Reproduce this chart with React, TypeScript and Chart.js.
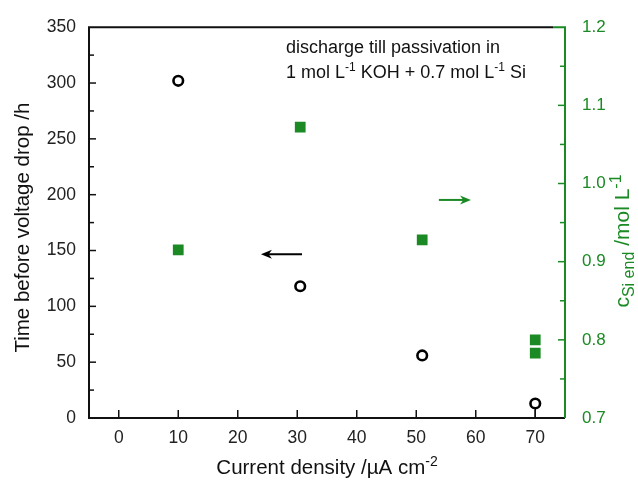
import React, { useEffect, useRef } from 'react';
import { Chart, registerables } from 'chart.js';

Chart.register(...registerables);

// ---- data ----
const currentDensity = [10, 30.5, 51, 70];
const timeBeforeDrop = [302, 118, 56, 13];
const timeLowerError = [0, 0, 0, 13];

const concCurrent = [10, 30.5, 51, 70, 70];
const concSiEnd = [0.915, 1.072, 0.928, 0.8, 0.783];

const xTickValues = [0, 10, 20, 30, 40, 50, 60, 70];
const yLeftTickValues = [0, 50, 100, 150, 200, 250, 300, 350];
const yRightTickValues = [0.7, 0.8, 0.9, 1.0, 1.1, 1.2];

const annotationLine1 = 'discharge till passivation in';
const blackArrow = { fromX: 30.8, toX: 23.9, y: 146.6 };
const greenArrow = { fromX: 53.8, toX: 59.2, y: 0.979 };

const GREEN = '#1b8a24';
const FONT = '"Liberation Sans", Arial, sans-serif';

type Seg = { t: string; s?: 'sub' | 'sup' };

function drawRich(
  ctx: CanvasRenderingContext2D,
  segs: Seg[],
  x: number,
  y: number,
  size: number,
  color: string,
  align: 'left' | 'center',
  rotate = 0,
  ratio = 0.68,
  supLift = 0.42
) {
  ctx.save();
  ctx.translate(x, y);
  if (rotate) ctx.rotate(rotate);
  ctx.fillStyle = color;
  ctx.textBaseline = 'alphabetic';
  ctx.textAlign = 'left';
  const small = Math.round(size * ratio);
  const widths = segs.map((sg) => {
    ctx.font = `${sg.s ? small : size}px ${FONT}`;
    return ctx.measureText(sg.t).width;
  });
  const total = widths.reduce((a, b) => a + b, 0);
  let cx = align === 'center' ? -total / 2 : 0;
  const base = size * 0.36;
  segs.forEach((sg, i) => {
    ctx.font = `${sg.s ? small : size}px ${FONT}`;
    let dy = base;
    if (sg.s === 'sup') dy = base - size * supLift;
    if (sg.s === 'sub') dy = base + size * 0.25;
    ctx.fillText(sg.t, cx, dy);
    cx += widths[i];
  });
  ctx.restore();
}

function drawArrow(ctx: CanvasRenderingContext2D, x1: number, x2: number, y: number, color: string) {
  ctx.save();
  ctx.strokeStyle = color;
  ctx.fillStyle = color;
  ctx.lineWidth = 2;
  const dir = x2 > x1 ? 1 : -1;
  const head = 11;
  ctx.beginPath();
  ctx.moveTo(x1, y);
  ctx.lineTo(x2 - dir * head * 0.6, y);
  ctx.stroke();
  ctx.beginPath();
  ctx.moveTo(x2, y);
  ctx.lineTo(x2 - dir * head, y - 4.5);
  ctx.lineTo(x2 - dir * head * 0.7, y);
  ctx.lineTo(x2 - dir * head, y + 4.5);
  ctx.closePath();
  ctx.fill();
  ctx.restore();
}

const decorPlugin = {
  id: 'decor',
  afterDatasetsDraw(chart: any) {
    const ctx: CanvasRenderingContext2D = chart.ctx;
    const { left, right, top, bottom } = chart.chartArea;
    const xs = chart.scales.x;
    const yl = chart.scales.y;
    const yr = chart.scales.y1;

    // error bars
    ctx.save();
    ctx.strokeStyle = '#000';
    ctx.lineWidth = 1.5;
    currentDensity.forEach((x, i) => {
      const e = timeLowerError[i];
      if (!e) return;
      const px = xs.getPixelForValue(x);
      const p0 = yl.getPixelForValue(timeBeforeDrop[i]);
      const p1 = yl.getPixelForValue(timeBeforeDrop[i] - e);
      ctx.beginPath();
      ctx.moveTo(px, p0 + 5);
      ctx.lineTo(px, p1);
      ctx.stroke();
    });
    ctx.restore();

    // frame
    ctx.save();
    ctx.lineWidth = 2;
    ctx.strokeStyle = '#111';
    ctx.beginPath();
    ctx.moveTo(right - 12, top);
    ctx.lineTo(left, top);
    ctx.lineTo(left, bottom);
    ctx.lineTo(right, bottom);
    ctx.stroke();
    ctx.strokeStyle = GREEN;
    ctx.beginPath();
    ctx.moveTo(right - 12, top);
    ctx.lineTo(right, top);
    ctx.lineTo(right, bottom);
    ctx.stroke();

    // inward ticks
    ctx.lineWidth = 1.5;
    ctx.strokeStyle = '#111';
    xTickValues.forEach((v) => {
      const px = xs.getPixelForValue(v);
      ctx.beginPath();
      ctx.moveTo(px, bottom);
      ctx.lineTo(px, bottom - 8);
      ctx.stroke();
    });
    for (let v = 25; v < 350; v += 25) {
      const py = yl.getPixelForValue(v);
      const len = v % 50 === 0 ? 7 : 5;
      ctx.beginPath();
      ctx.moveTo(left, py);
      ctx.lineTo(left + len, py);
      ctx.stroke();
    }
    ctx.strokeStyle = GREEN;
    for (let k = 1; k < 10; k++) {
      const v = 0.7 + k * 0.05;
      const py = yr.getPixelForValue(v);
      const len = k % 2 === 0 ? 7 : 5;
      ctx.beginPath();
      ctx.moveTo(right, py);
      ctx.lineTo(right - len, py);
      ctx.stroke();
    }
    ctx.restore();

    // arrows
    drawArrow(
      ctx,
      xs.getPixelForValue(blackArrow.fromX),
      xs.getPixelForValue(blackArrow.toX),
      yl.getPixelForValue(blackArrow.y),
      '#000'
    );
    drawArrow(
      ctx,
      xs.getPixelForValue(greenArrow.fromX),
      xs.getPixelForValue(greenArrow.toX),
      yr.getPixelForValue(greenArrow.y),
      GREEN
    );

    // annotation
    drawRich(ctx, [{ t: annotationLine1 }], 286, 47, 18, '#111', 'left');
    drawRich(
      ctx,
      [
        { t: '1 mol L' },
        { t: '-1', s: 'sup' },
        { t: ' KOH + 0.7 mol L' },
        { t: '-1', s: 'sup' },
        { t: ' Si' },
      ],
      286,
      72,
      18,
      '#111',
      'left'
    );

    // axis titles
    drawRich(ctx, [{ t: 'Time before voltage drop /h' }], 22, (top + bottom) / 2 + 5, 20.5, '#111', 'center', -Math.PI / 2);
    drawRich(
      ctx,
      [{ t: 'Current density /µA cm' }, { t: '-2', s: 'sup' }],
      (left + right) / 2,
      467,
      20.5,
      '#111',
      'center'
    );
    drawRich(
      ctx,
      [{ t: 'c' }, { t: 'Si end', s: 'sub' }, { t: ' /mol L' }, { t: '-1', s: 'sup' }],
      621,
      241,
      21,
      GREEN,
      'center',
      -Math.PI / 2,
      0.78,
      0.36
    );
  },
};

export default function App() {
  const ref = useRef<HTMLCanvasElement | null>(null);

  useEffect(() => {
    if (!ref.current) return;
    const chart = new Chart(ref.current, {
      type: 'scatter',
      data: {
        datasets: [
          {
            label: 'Time before voltage drop',
            data: currentDensity.map((x, i) => ({ x, y: timeBeforeDrop[i] })),
            yAxisID: 'y',
            pointStyle: 'circle',
            pointRadius: 4.8,
            pointBorderWidth: 2.6,
            borderColor: '#000',
            backgroundColor: 'rgba(255,255,255,0)',
          },
          {
            label: 'c Si end',
            data: concCurrent.map((x, i) => ({ x, y: concSiEnd[i] })),
            yAxisID: 'y1',
            pointStyle: 'rect',
            pointRadius: 7.6,
            pointBorderWidth: 0,
            borderColor: GREEN,
            backgroundColor: GREEN,
          },
        ],
      },
      options: {
        animation: false,
        responsive: true,
        maintainAspectRatio: false,
        layout: { padding: { top: 24, left: 0, right: 0, bottom: 0 } },
        plugins: { legend: { display: false }, tooltip: { enabled: false } },
        scales: {
          x: {
            type: 'linear',
            min: -5,
            max: 75,
            afterBuildTicks: (s: any) => {
              s.ticks = xTickValues.map((v) => ({ value: v }));
            },
            afterFit: (s: any) => {
              s.height = 69;
            },
            grid: { display: false, drawTicks: false },
            border: { display: false },
            ticks: { padding: 10, color: '#222', font: { family: FONT, size: 17.5 } },
          },
          y: {
            type: 'linear',
            position: 'left',
            min: 0,
            max: 350,
            afterBuildTicks: (s: any) => {
              s.ticks = yLeftTickValues.map((v) => ({ value: v }));
            },
            afterFit: (s: any) => {
              s.width = 89;
            },
            grid: { display: false, drawTicks: false },
            border: { display: false },
            ticks: { padding: 13, color: '#222', font: { family: FONT, size: 17.5 } },
          },
          y1: {
            type: 'linear',
            position: 'right',
            min: 0.7,
            max: 1.2,
            afterBuildTicks: (s: any) => {
              s.ticks = yRightTickValues.map((v) => ({ value: v }));
            },
            afterFit: (s: any) => {
              s.width = 73;
            },
            grid: { display: false, drawTicks: false },
            border: { display: false },
            ticks: {
              padding: 17,
              color: GREEN,
              font: { family: FONT, size: 17 },
              callback: (v: any) => Number(v).toFixed(1),
            },
          },
        },
      },
      plugins: [decorPlugin],
    });
    return () => chart.destroy();
  }, []);

  return (
    <div style={{ position: 'fixed', left: 0, top: 0, width: 638, height: 487, background: '#fff' }}>
      <canvas ref={ref} />
    </div>
  );
}
